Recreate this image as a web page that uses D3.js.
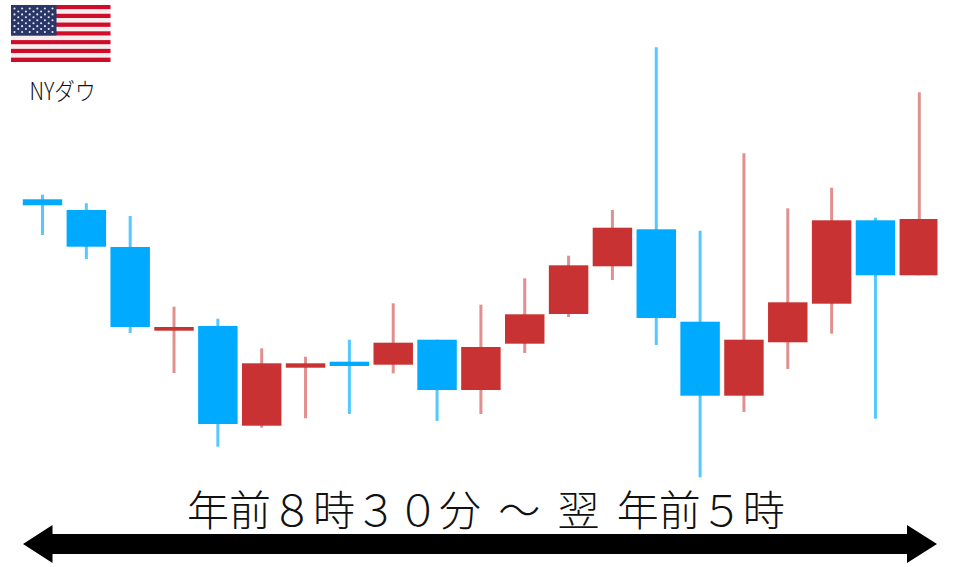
<!DOCTYPE html>
<html lang="ja"><head><meta charset="utf-8">
<script src="https://cdnjs.cloudflare.com/ajax/libs/d3/7.8.5/d3.min.js"></script>
<style>html,body{margin:0;padding:0;background:#fff;overflow:hidden}svg{display:block}text{font-family:"Noto Sans CJK JP","Noto Sans",sans-serif;fill:#111;font-weight:300}</style>
</head><body><script>
const candleIds=d3.range(1,22);
const opens =[367.7,357,320,236.3,241,141.3,199.3,205.3,202.3,227.3,177,223.3,253,300.7,337.7,245.3,171.3,224.7,263.3,346.7,291.7];
const closes=[361.7,320.3,240,240,143,203.7,203.7,201,224.3,177,220,252.7,301.7,339.3,249,171.3,227.3,264.7,346.7,291.7,348];
const highs =[372.3,363.7,351,260.3,248.3,218.7,210.3,227.3,263.7,227.3,262.3,288.7,311.3,357,519.7,336.3,413.7,358.7,379.3,349.3,474.7];
const lows  =[332,308,234,194,120.3,139.3,148.7,153,193.7,146,153,214,250,287,222,89.7,155,198,233.3,148.3,291.7];
const flagLabel="NYダウ";
const rangeLabel="年前８時３０分 ～ 翌 年前５時";
const stripeIds=d3.range(13);
const starRows=d3.range(9);

const W=960,H=567;
const svg=d3.select("body").append("svg").attr("width",W).attr("height",H);
const defs=svg.append("defs");
defs.append("filter").attr("id","soft").attr("x","-5%").attr("y","-5%").attr("width","110%").attr("height","110%")
  .append("feGaussianBlur").attr("stdDeviation",0.55);
defs.append("clipPath").attr("id","plot").append("rect").attr("x",0).attr("y",0).attr("width",937.5).attr("height",H);

const x=d3.scaleBand().domain(candleIds).range([20.58,941.22]).paddingInner(0.1).paddingOuter(0.05);
const y=d3.scaleLinear().domain([0,H]).range([H,0]);
const candles=candleIds.map((id,i)=>({id,o:opens[i],c:closes[i],h:highs[i],l:lows[i],up:closes[i]>opens[i]}));
const bodyCol={up:"#c93330",down:"#00aaff"}, wickCol={up:"#e28f8f",down:"#55c8ff"};

const g=svg.append("g").attr("clip-path","url(#plot)").append("g").attr("filter","url(#soft)");
g.selectAll("line.wick").data(candles).join("line").attr("class","wick")
  .attr("x1",d=>x(d.id)+x.bandwidth()/2).attr("x2",d=>x(d.id)+x.bandwidth()/2)
  .attr("y1",d=>y(d.h)).attr("y2",d=>y(d.l))
  .attr("stroke",d=>d.up?wickCol.up:wickCol.down).attr("stroke-width",3);
g.selectAll("rect.body").data(candles).join("rect").attr("class","body")
  .attr("x",d=>x(d.id)).attr("width",x.bandwidth())
  .attr("y",d=>y(Math.max(d.o,d.c))).attr("height",d=>Math.max(3,Math.abs(y(d.o)-y(d.c))))
  .attr("fill",d=>d.up?bodyCol.up:bodyCol.down);

// flag
const flag=svg.append("g").attr("filter","url(#soft)");
const sy=d3.scaleBand().domain(stripeIds).range([5,62]);
flag.selectAll("rect.stripe").data(stripeIds).join("rect").attr("class","stripe")
  .attr("x",11).attr("width",99.5).attr("y",d=>sy(d)).attr("height",sy.bandwidth())
  .attr("fill",d=>d%2?"#f4eeee":"#cf0a2c");
flag.append("rect").attr("x",11).attr("y",5).attr("width",45.5).attr("height",30.5).attr("fill","#2a3668");
const rowY=d3.scalePoint().domain(starRows).range([8.5,32]);
const colX=d3.scalePoint().domain(d3.range(11)).range([14.5,52.5]);
const stars=starRows.flatMap(r=>d3.range(11).filter(c=>(c%2)===(r%2)).map(c=>({r,c})));
flag.selectAll("circle").data(stars).join("circle")
  .attr("cx",d=>colX(d.c)).attr("cy",d=>rowY(d.r)).attr("r",1.05).attr("fill","#e6e8f2");

svg.append("text").attr("x",29.5).attr("y",100).attr("font-size",24).attr("textLength",66)
  .attr("lengthAdjust","spacingAndGlyphs").text(flagLabel);

svg.append("text").attr("x",187).attr("y",526).attr("font-size",42).attr("word-spacing",8)
  .attr("id","range").attr("xml:space","preserve").text(rangeLabel);

// arrow
const arrow=d3.path();
arrow.moveTo(23,544);arrow.lineTo(52.5,525);arrow.lineTo(52.5,534);arrow.lineTo(907,534);arrow.lineTo(907,525);
arrow.lineTo(937,544);arrow.lineTo(907,563);arrow.lineTo(907,554);arrow.lineTo(52.5,554);arrow.lineTo(52.5,563);arrow.closePath();
svg.append("path").attr("d",arrow.toString()).attr("fill","#000");
</script></body></html>
